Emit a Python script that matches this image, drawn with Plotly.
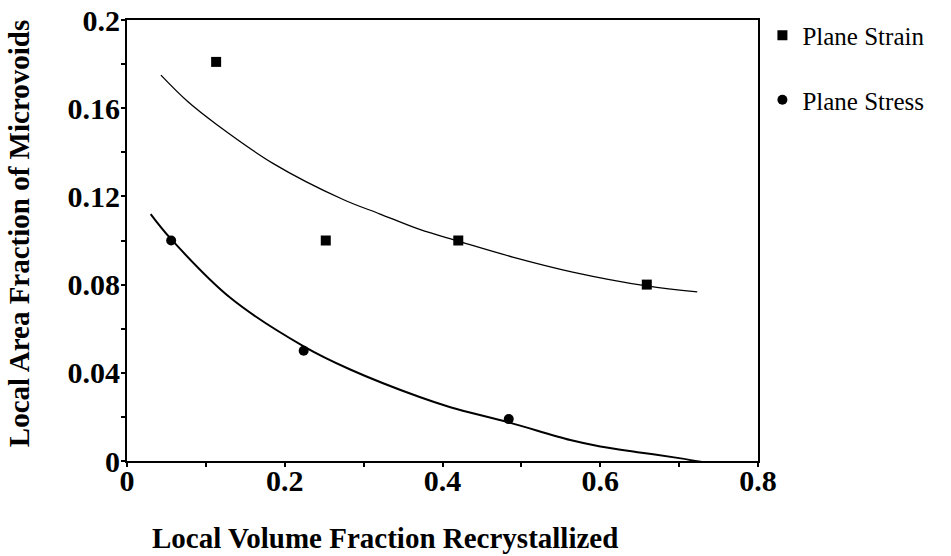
import plotly.graph_objects as go

# Measured data points
strain_x = [0.113, 0.252, 0.420, 0.659]
strain_y = [0.181, 0.100, 0.100, 0.080]
stress_x = [0.056, 0.224, 0.484, 0.730]
stress_y = [0.100, 0.050, 0.019, -0.001]

# Fitted curves
strain_fit_x = [0.043, 0.077, 0.114, 0.185, 0.274, 0.321, 0.371, 0.420, 0.489, 0.565, 0.659, 0.723]
strain_fit_y = [0.175, 0.163, 0.1525, 0.135, 0.1186, 0.112, 0.105, 0.0997, 0.0925, 0.0857, 0.0794, 0.0767]
stress_fit_x = [0.030, 0.056, 0.131, 0.224, 0.283, 0.371, 0.410, 0.484, 0.562, 0.600, 0.650, 0.700, 0.730]
stress_fit_y = [0.112, 0.1006, 0.074, 0.052, 0.0415, 0.029, 0.0244, 0.0175, 0.0095, 0.0066, 0.0039, 0.0013, -0.0005]

x_ticks = [0, 0.2, 0.4, 0.6, 0.8]
x_tick_text = ["0", "0.2", "0.4", "0.6", "0.8"]
y_ticks = [0, 0.04, 0.08, 0.12, 0.16, 0.2]
y_tick_text = ["0", "0.04", "0.08", "0.12", "0.16", "0.2"]

serif = "Liberation Serif, Times New Roman, serif"

fig = go.Figure()
fig.add_trace(go.Scatter(x=strain_fit_x, y=strain_fit_y, mode="lines",
                         line=dict(color="black", width=1.3, shape="spline"),
                         showlegend=False, hoverinfo="skip"))
fig.add_trace(go.Scatter(x=stress_fit_x, y=stress_fit_y, mode="lines",
                         line=dict(color="black", width=2, shape="spline"),
                         showlegend=False, hoverinfo="skip"))
fig.add_trace(go.Scatter(x=strain_x, y=strain_y, mode="markers", name="Plane Strain",
                         legendgroup="a",
                         marker=dict(symbol="square", size=10, color="black"),
                         cliponaxis=False))
fig.add_trace(go.Scatter(x=stress_x, y=stress_y, mode="markers", name="Plane Stress",
                         legendgroup="b",
                         marker=dict(symbol="circle", size=10, color="black"),
                         cliponaxis=False))

axis_common = dict(showline=True, linecolor="black", linewidth=2, mirror=True,
                   ticks="outside", ticklen=4, tickwidth=1.5, tickcolor="black",
                   showgrid=False, zeroline=False, automargin=False,
                   ticklabeloverflow="allow",
                   tickfont=dict(family=serif, size=30, color="black", weight="bold"))

fig.update_xaxes(range=[0, 0.8], tickvals=x_ticks, ticktext=x_tick_text,
                 ticklabelstandoff=-12,
                 minor=dict(dtick=0.1, ticks="outside", ticklen=4, tickcolor="black", tickwidth=1.5),
                 **axis_common)
fig.update_yaxes(range=[0, 0.2], tickvals=y_ticks, ticktext=y_tick_text,
                 ticklabelstandoff=-5,
                 minor=dict(dtick=0.02, ticks="outside", ticklen=4, tickcolor="black", tickwidth=1.5),
                 **axis_common)

fig.add_annotation(text="<b>Local Volume Fraction Recrystallized</b>",
                   xref="paper", yref="paper", x=0.409, y=-0.174,
                   xanchor="center", yanchor="middle", showarrow=False,
                   font=dict(family=serif, size=29, color="black"))
fig.add_annotation(text="<b>Local Area Fraction of Microvoids</b>",
                   xref="paper", yref="paper", x=-0.170, y=0.516, textangle=-90,
                   xanchor="center", yanchor="middle", showarrow=False,
                   font=dict(family=serif, size=29, color="black"))

fig.update_layout(
    width=951, height=556,
    margin=dict(l=127, r=193, t=17, b=95),
    paper_bgcolor="white", plot_bgcolor="white",
    legend=dict(x=1.007, y=1.017, xanchor="left", yanchor="top",
                font=dict(family=serif, size=25, color="black"),
                traceorder="grouped", tracegroupgap=29,
                bgcolor="rgba(0,0,0,0)"),
)

# remove the default 8px page margin so the figure fills the window exactly
fig.write_html("out.html", config={"displayModeBar": False},
               post_script="document.body.style.margin='0';")
